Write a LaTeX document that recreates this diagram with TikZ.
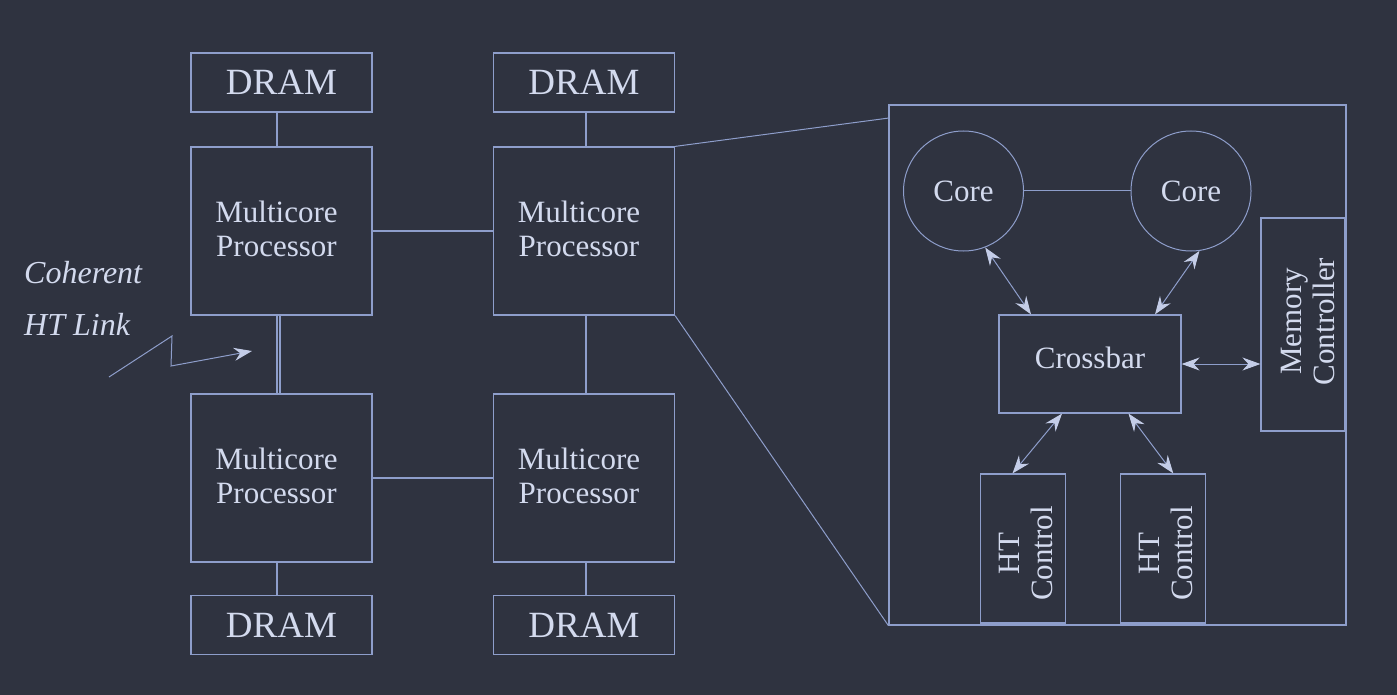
\documentclass[tikz,border=0pt]{standalone}
\usepackage{fontspec}
\setmainfont{Liberation Serif}
\usetikzlibrary{arrows.meta,calc}
\definecolor{bgc}{HTML}{2F3340}
\definecolor{linec}{HTML}{8E9ECB}
\definecolor{textc}{HTML}{D3DAEE}
\definecolor{tipc}{HTML}{C4CDE8}
\begin{document}
\begin{tikzpicture}[x=1pt,y=-1pt,
  box/.style={draw=linec, line width=1.2pt, rectangle, inner sep=0pt, text=textc, align=center},
  dram/.style={box, minimum width=181pt, minimum height=59pt, font=\fontsize{37}{40}\selectfont},
  proc/.style={box, minimum width=181pt, minimum height=168pt},
  proctext/.style={align=center, text=textc, inner sep=0pt, font=\fontsize{31}{34}\selectfont},
  core/.style={draw=linec, line width=1pt, circle, minimum size=120pt, inner sep=0pt, text=textc, font=\fontsize{31}{34}\selectfont},
  small/.style={box, font=\fontsize{31}{34}\selectfont},
  rottext/.style={rotate=90, align=center, text=textc, inner sep=0pt, font=\fontsize{31}{33}\selectfont},
  wire/.style={draw=linec, line width=1.2pt},
  thin/.style={draw=linec, line width=1pt},
  biarrow/.style={draw=linec, line width=1pt, {Stealth[length=18pt,width=13pt,inset=6pt,color=tipc]}-{Stealth[length=18pt,width=13pt,inset=6pt,color=tipc]}}
]
\fill[bgc] (0,0) rectangle (1397,695);
\useasboundingbox (0,0) rectangle (1397,695);

% left part
\node[dram] (dtl) at (281.5,82.5) {DRAM};
\node[dram] (dtr) at (584,82.5) {DRAM};
\node[proc, label={[xshift=-5pt, yshift=2pt, proctext]center:Multicore\\Processor}] (ptl) at (281.5,231) {};
\node[proc, label={[xshift=-5pt, yshift=2pt, proctext]center:Multicore\\Processor}] (ptr) at (584,231) {};
\node[proc, label={[xshift=-5pt, yshift=2pt, proctext]center:Multicore\\Processor}] (pbl) at (281.5,478) {};
\node[proc, label={[xshift=-5pt, yshift=2pt, proctext]center:Multicore\\Processor}] (pbr) at (584,478) {};
\node[dram] (dbl) at (281.5,625) {DRAM};
\node[dram] (dbr) at (584,625) {DRAM};

\draw[wire] ([xshift=-4.5pt]dtl.south) -- ([xshift=-4.5pt]ptl.north);
\draw[wire] ([xshift=2pt]dtr.south) -- ([xshift=2pt]ptr.north);
\draw[wire] ([xshift=-4.5pt]pbl.south) -- ([xshift=-4.5pt]dbl.north);
\draw[wire] ([xshift=2pt]pbr.south) -- ([xshift=2pt]dbr.north);
\draw[wire] (ptl.east) -- (ptr.west);
\draw[wire] (pbl.east) -- (pbr.west);
\draw[wire] ([xshift=2pt]ptr.south) -- ([xshift=2pt]pbr.north);
\draw[draw=linec, line width=1.3pt, double=bgc, double distance=1.6pt] ([xshift=-3pt]ptl.south) -- ([xshift=-3pt]pbl.north);

% coherent HT link
\node[text=textc, align=left, anchor=north west, inner sep=0pt, font=\itshape\fontsize{32}{52}\selectfont] (lbl) at (24,261) {Coherent\\HT Link};
\coordinate (z1) at (109,377);
\coordinate (z2) at (172,336);
\coordinate (z3) at (171,366);
\coordinate (z4) at (252,351);
\draw[thin, -{Stealth[length=18pt,width=13pt,inset=6pt,color=tipc]}] (z1) -- (z2) -- (z3) -- (z4);

% zoomed detail
\node[box, minimum width=457pt, minimum height=520pt] (outer) at (1117.5,365) {};
\coordinate (zt) at (889,118);
\draw[thin] (ptr.north east) -- (zt);
\draw[thin] (ptr.south east) -- (outer.south west);

\node[core] (cl) at (963.5,191) {Core};
\node[core] (cr) at (1191,191) {Core};
\draw[thin] (cl) -- (cr);
\node[small, minimum width=182pt, minimum height=98pt] (cb) at (1090,364) {\raisebox{12pt}{Crossbar}};
\node[small, minimum width=84pt, minimum height=213pt,
  label={[xshift=5pt, yshift=3pt, rottext]center:Memory\\Controller}] (mem) at (1303,324.5) {};
\node[small, minimum width=85pt, minimum height=149pt,
  label={[xshift=2.5pt, yshift=-5pt, rottext]center:HT\\Control}] (htl) at (1023,548.5) {};
\node[small, minimum width=85pt, minimum height=149pt,
  label={[xshift=2.5pt, yshift=-5pt, rottext]center:HT\\Control}] (htr) at (1163,548.5) {};

\draw[biarrow] (cl.-69) -- ([xshift=-59pt]cb.north);
\draw[biarrow] (cr.-82) -- ([xshift=65pt]cb.north);
\draw[biarrow] (cb.east) -- (cb.east -| mem.west);
\draw[biarrow] ([xshift=-28pt]cb.south) -- ([xshift=-10.5pt]htl.north);
\draw[biarrow] ([xshift=38.5pt]cb.south) -- ([xshift=10.3pt]htr.north);
\end{tikzpicture}
\end{document}
